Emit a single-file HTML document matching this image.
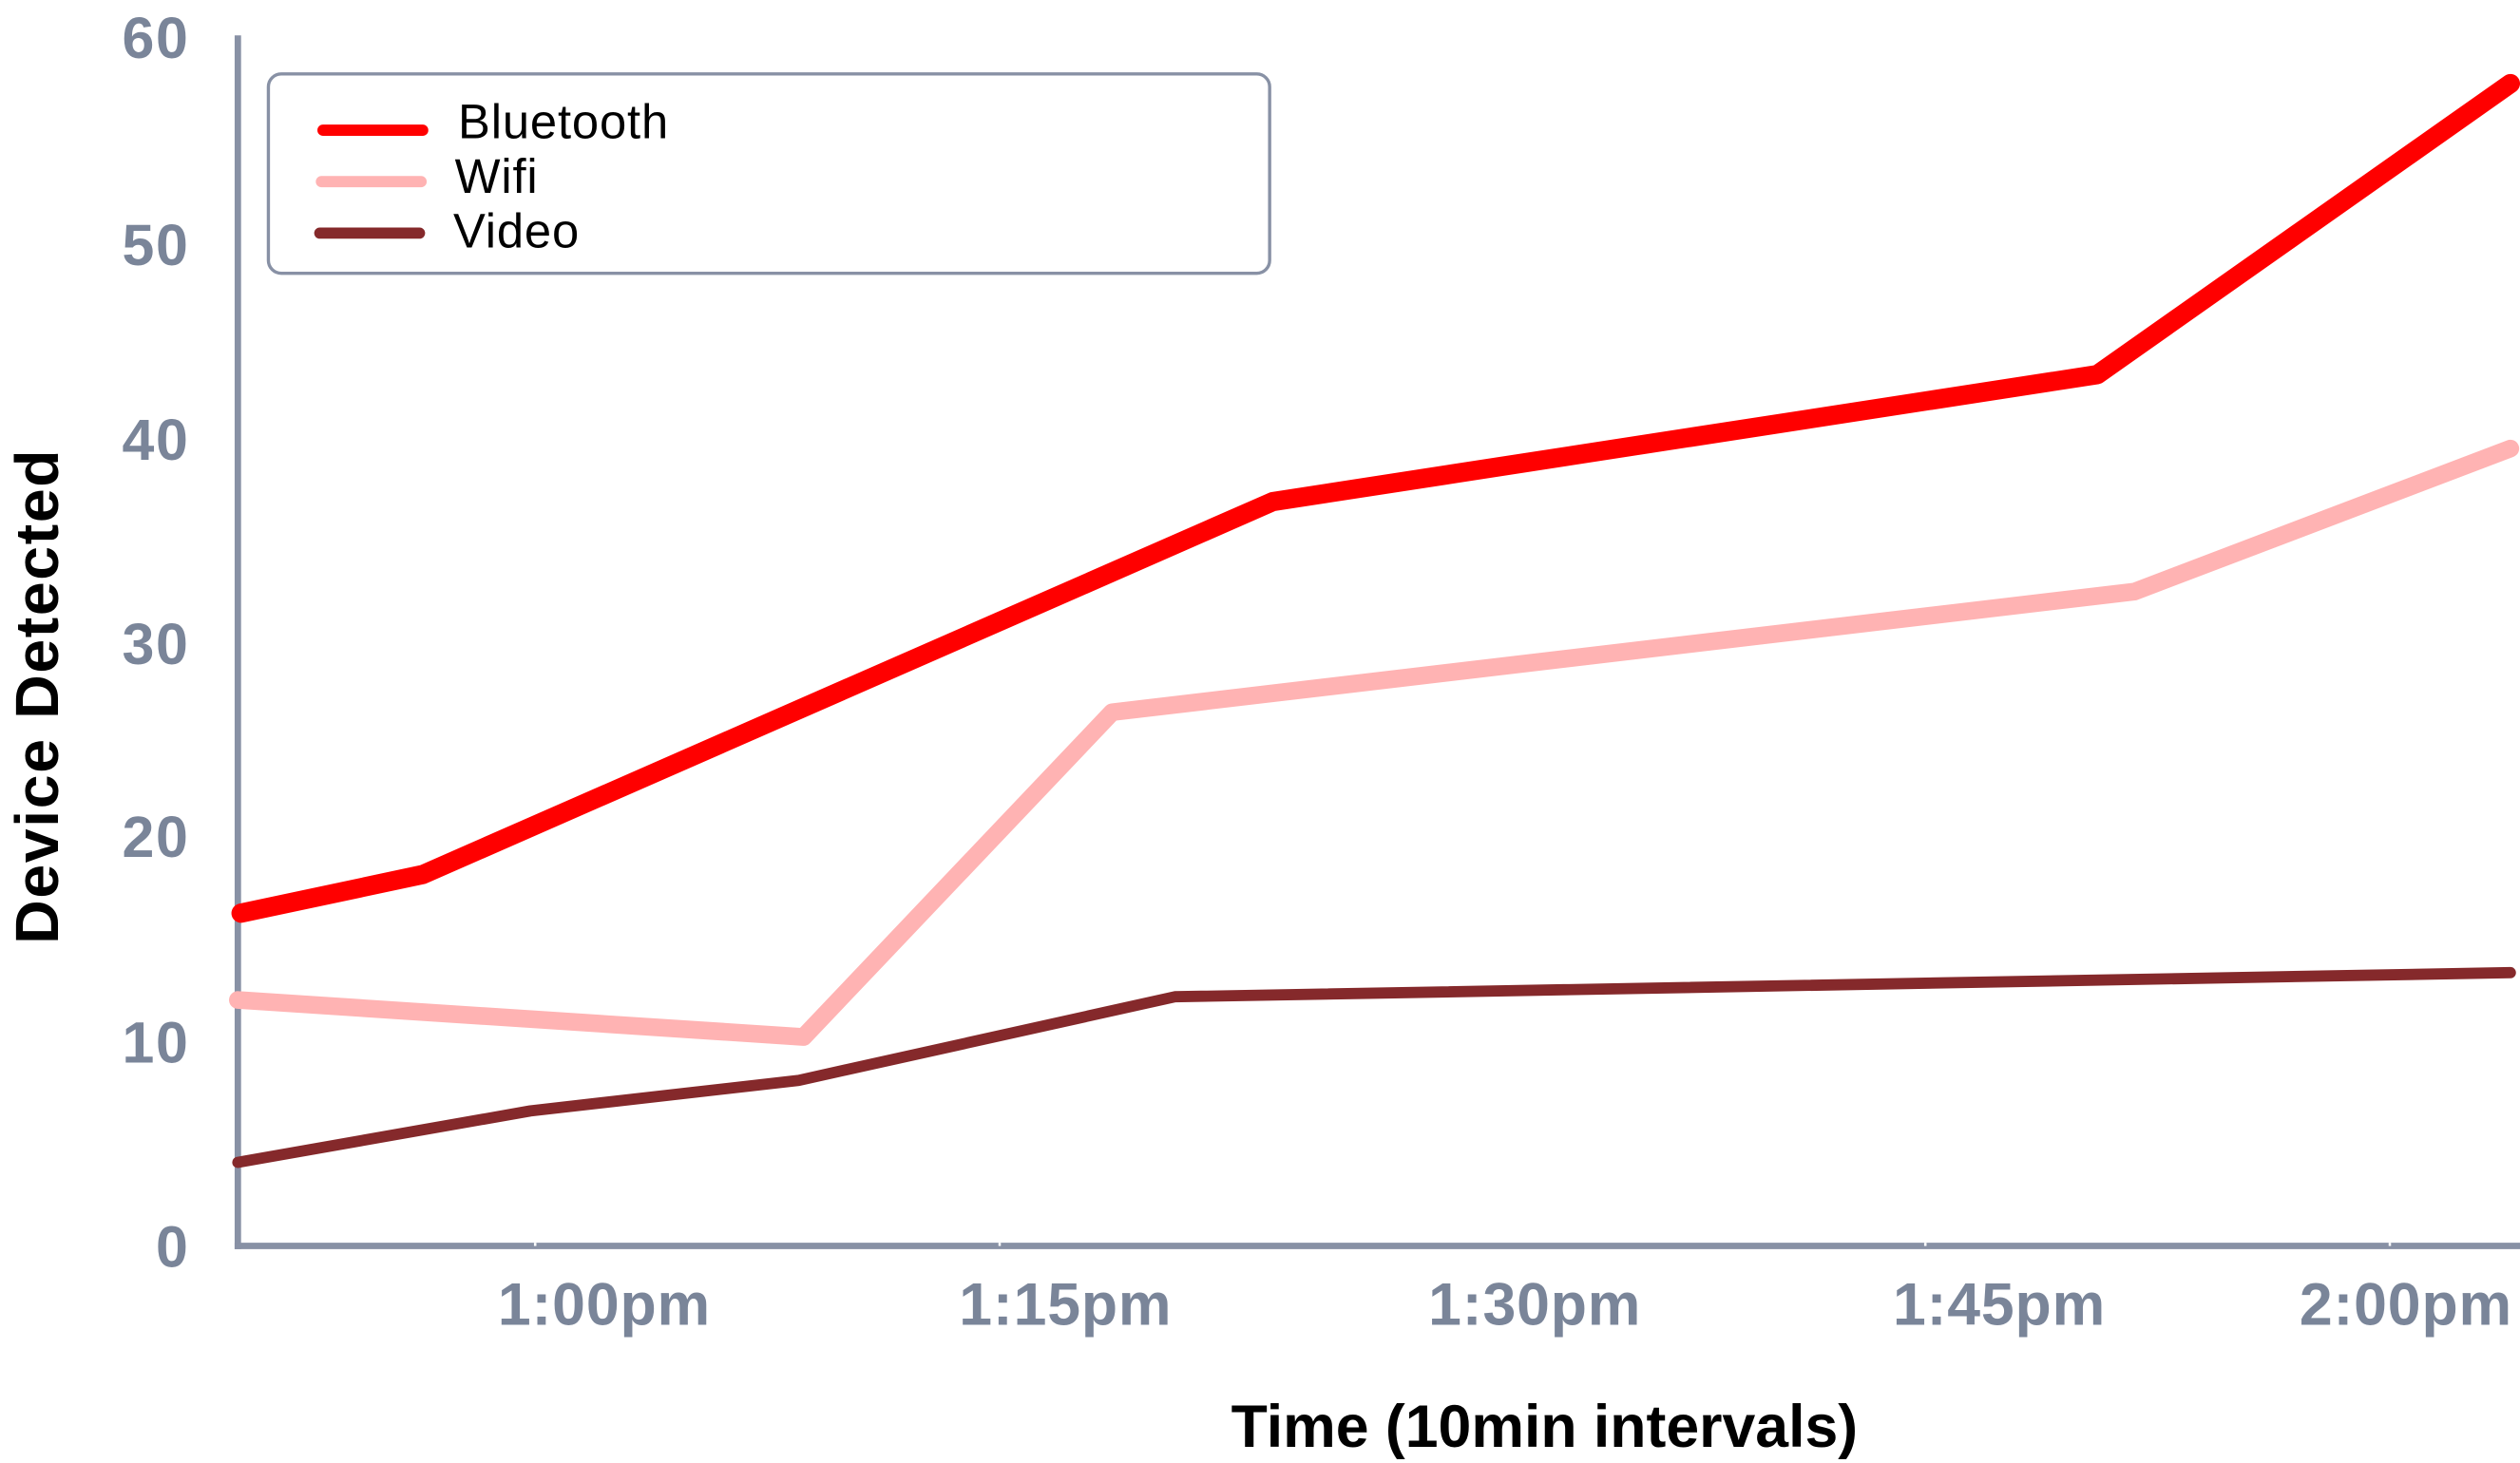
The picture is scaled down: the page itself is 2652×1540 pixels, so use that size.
<!DOCTYPE html>
<html><head><meta charset="utf-8"><style>html,body{margin:0;padding:0;background:#fff}svg{display:block}</style></head>
<body>
<svg width="2652" height="1540" viewBox="0 0 1568 910" preserveAspectRatio="none" xmlns="http://www.w3.org/2000/svg">
<g stroke="#8891a5" stroke-width="4" fill="none">
<line x1="148" y1="22" x2="148" y2="777"/>
<line x1="146" y1="775" x2="1568" y2="775"/>
</g>
<g stroke="#ffffff" stroke-width="1.5">
<line x1="333" y1="773" x2="333" y2="775"/>
<line x1="622" y1="773" x2="622" y2="775"/>
<line x1="1198" y1="773" x2="1198" y2="775"/>
<line x1="1487" y1="773" x2="1487" y2="775"/>
</g>
<g fill="#7a8599" font-family="Liberation Sans, sans-serif" font-weight="bold" font-size="36" text-anchor="end" letter-spacing="1">
<text x="118" y="36">60</text>
<text x="118" y="165">50</text>
<text x="118" y="286">40</text>
<text x="118" y="413">30</text>
<text x="118" y="533">20</text>
<text x="118" y="661">10</text>
<text x="118" y="788">0</text>
</g>
<g fill="#7a8599" font-family="Liberation Sans, sans-serif" font-weight="bold" font-size="37" text-anchor="middle" letter-spacing="0.5">
<text x="376" y="824">1:00pm</text>
<text x="663" y="824">1:15pm</text>
<text x="955" y="824">1:30pm</text>
<text x="1244" y="824">1:45pm</text>
<text x="1497" y="824">2:00pm</text>
</g>
<text x="961" y="900" text-anchor="middle" font-family="Liberation Sans, sans-serif" font-weight="bold" font-size="37" fill="#000">Time (10min intervals)</text>
<text transform="translate(36,433) rotate(-90)" text-anchor="middle" font-family="Liberation Sans, sans-serif" font-weight="bold" font-size="38" letter-spacing="1" fill="#000">Device Detected</text>
<g fill="none" stroke-linecap="round" stroke-linejoin="round">
<polyline points="148,723 330,691 497,672 731,620 1562,605" stroke="#85292b" stroke-width="7"/>
<polyline points="148,622 500,645 692,443 1328,368 1562,279" stroke="#ffb3b3" stroke-width="11"/>
<polyline points="150,568 263,544 792,312 1305,233 1562,52" stroke="#ff0000" stroke-width="12"/>
</g>
<rect x="167" y="46" width="623" height="124" rx="8" fill="#fff" stroke="#8891a5" stroke-width="2"/>
<g stroke-linecap="round" stroke-width="7">
<line x1="201" y1="81" x2="263" y2="81" stroke="#ff0000"/>
<line x1="200" y1="113" x2="262" y2="113" stroke="#ffb3b3"/>
<line x1="199" y1="145" x2="261" y2="145" stroke="#85292b"/>
</g>
<g font-family="Liberation Sans, sans-serif" font-size="30" fill="#000" letter-spacing="0.5">
<text x="285" y="86">Bluetooth</text>
<text x="283" y="120">Wifi</text>
<text x="282" y="154">Video</text>
</g>
</svg>
</body></html>
